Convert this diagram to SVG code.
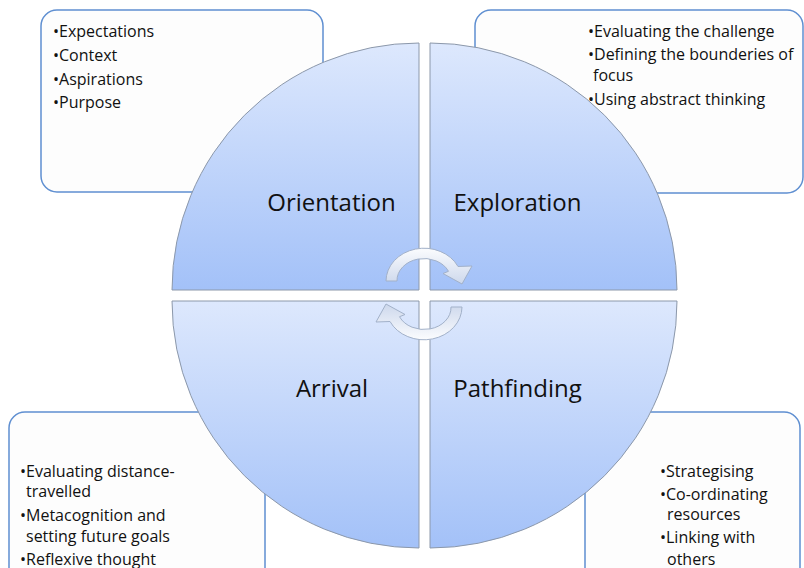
<svg xmlns="http://www.w3.org/2000/svg" xmlns:xlink="http://www.w3.org/1999/xlink" width="804" height="568" viewBox="0 0 804 568">
  <style>
    .box { fill: #fdfdfd; stroke: #5f8fd1; stroke-width: 1.5; }
    .quad { stroke: #8c98aa; stroke-width: 1; }
    .lbl { font-family: "Open Sans", "Liberation Sans", sans-serif; font-size: 24px; fill: #111; text-anchor: middle; }
    .txt { font-family: "Open Sans", "Liberation Sans", sans-serif; font-size: 16px; fill: #111; }
    .arr { fill: url(#arrGrad); stroke: #a2b1c9; stroke-width: 1; }
  </style>
  <defs>
    <linearGradient id="gTop" gradientUnits="userSpaceOnUse" x1="0" y1="43" x2="0" y2="290">
      <stop offset="0" stop-color="#dde8fd"/>
      <stop offset="1" stop-color="#a3c1f8"/>
    </linearGradient>
    <linearGradient id="gBot" gradientUnits="userSpaceOnUse" x1="0" y1="301" x2="0" y2="548">
      <stop offset="0" stop-color="#dde8fd"/>
      <stop offset="1" stop-color="#a3c1f8"/>
    </linearGradient>
    <linearGradient id="arrGrad" x1="0" y1="0" x2="0" y2="1">
      <stop offset="0" stop-color="#fbfcfe"/>
      <stop offset="1" stop-color="#cdd8ec"/>
    </linearGradient>
    <path id="arrow" d="M386,281 A38,33 0 0 1 458,266.5 L472,266 L462,284 L443,273.5 L448.5,271.3 A27,22 0 0 0 397,281 Z"/>
  </defs>

  <g id="box-orientation">
    <rect class="box" x="41" y="10" width="282" height="182" rx="16"/>
  </g>
  <g id="box-exploration">
    <rect class="box" x="475" y="10" width="328" height="183" rx="16"/>
  </g>
  <g id="box-arrival">
    <rect class="box" x="9" y="412" width="256" height="200" rx="16"/>
  </g>
  <g id="box-pathfinding">
    <rect class="box" x="585" y="412" width="215" height="200" rx="16"/>
  </g>

  <g id="orientation">
    <path class="quad" fill="url(#gTop)" d="M419,290 L172,290 A247,247 0 0 1 419,43 Z"/>
    <text class="lbl" x="331.5" y="211">Orientation</text>
  </g>
  <g id="exploration">
    <path class="quad" fill="url(#gTop)" d="M430,290 L430,43 A247,247 0 0 1 677,290 Z"/>
    <text class="lbl" x="517.5" y="211">Exploration</text>
  </g>
  <g id="arrival">
    <path class="quad" fill="url(#gBot)" d="M419,301 L419,548 A247,247 0 0 1 172,301 Z"/>
    <text class="lbl" x="332" y="397">Arrival</text>
  </g>
  <g id="pathfinding">
    <path class="quad" fill="url(#gBot)" d="M430,301 L677,301 A247,247 0 0 1 430,548 Z"/>
    <text class="lbl" x="517.5" y="397">Pathfinding</text>
  </g>

  <g id="connectors">
    <use xlink:href="#arrow" href="#arrow" class="arr"/>
    <use xlink:href="#arrow" href="#arrow" class="arr" transform="rotate(180 424 294)"/>
  </g>

  <g id="text-orientation" class="txt">
    <text x="53" y="37">•Expectations</text>
    <text x="53" y="61">•Context</text>
    <text x="53" y="85">•Aspirations</text>
    <text x="53" y="108">•Purpose</text>
  </g>
  <g id="text-exploration" class="txt">
    <text x="588" y="37">•Evaluating the challenge</text>
    <text x="588" y="60">•Defining the bounderies of</text>
    <text x="593" y="81">focus</text>
    <text x="588" y="105">•Using abstract thinking</text>
  </g>
  <g id="text-arrival" class="txt">
    <text x="20" y="477">•Evaluating distance-</text>
    <text x="26" y="497">travelled</text>
    <text x="20" y="521">•Metacognition and</text>
    <text x="26" y="542">setting future goals</text>
    <text x="20" y="565">•Reflexive thought</text>
  </g>
  <g id="text-pathfinding" class="txt">
    <text x="660" y="477">•Strategising</text>
    <text x="660" y="500">•Co-ordinating</text>
    <text x="667" y="520">resources</text>
    <text x="660" y="543">•Linking with</text>
    <text x="667" y="565">others</text>
  </g>
</svg>
